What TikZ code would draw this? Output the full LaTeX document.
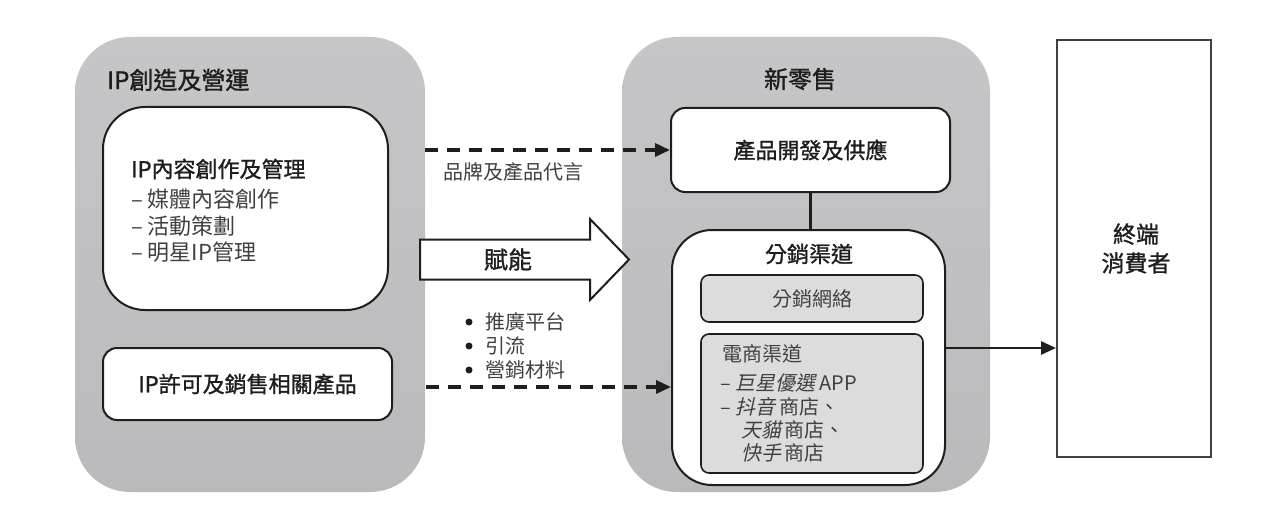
\documentclass[tikz,border=0pt]{standalone}
\usepackage{fontspec}
\setmainfont{Noto Sans CJK TC}
\newfontfamily\cjk{Noto Sans CJK TC}
\newfontfamily\cjkhead[FakeBold=1.2]{Noto Sans CJK TC}
\newfontfamily\cjkit[FakeSlant=0.22]{Noto Sans CJK TC}
\usetikzlibrary{arrows.meta}
\definecolor{panelTop}{RGB}{198,198,200}
\definecolor{panelBot}{RGB}{186,186,188}
\definecolor{innerGray}{RGB}{221,220,221}
\definecolor{ink}{RGB}{30,30,30}
\definecolor{soft}{RGB}{64,64,64}
\newcommand{\ldash}{–\hspace{5pt}}
\tikzset{
  panel/.style={draw=none, top color=panelTop, bottom color=panelBot, rounded corners=55pt, inner sep=0pt},
  wbox/.style={draw=ink, line width=2pt, fill=white, inner sep=0pt},
  gbox/.style={draw=ink, line width=1.6pt, fill=innerGray, rounded corners=8pt, inner sep=0pt},
  headtxt/.style={text=ink, inner sep=0pt, font=\cjkhead\fontsize{22}{26}\selectfont},
  bigtitle/.style={text=ink, inner sep=0pt, font=\cjkhead\fontsize{24}{28}\selectfont},
  listtxt/.style={text=soft, inner sep=0pt, anchor=west, font=\cjk\fontsize{22}{26}\selectfont},
  smalltxt/.style={text=soft, inner sep=0pt, anchor=west, font=\cjk\fontsize{20}{24}\selectfont},
  bulletdot/.style={circle, fill=ink, inner sep=0pt, minimum size=7pt},
  dasharrow/.style={draw=ink, line width=3.5pt, dash pattern=on 13pt off 9pt, -{Triangle[length=15pt,width=13pt]}},
  solidarrow/.style={draw=ink, line width=2.8pt, -{Triangle[length=15pt,width=13pt]}},
}
\begin{document}
\begin{tikzpicture}[x=1pt,y=-1pt]
\useasboundingbox[fill=white] (0,0) rectangle (1263,524);
% panels
\node[panel, minimum width=350pt, minimum height=455pt] (left) at (250,264.5) {};
\node[panel, minimum width=368pt, minimum height=455pt] (mid) at (806,264.5) {};
% left boxes
\node[wbox, rounded corners=42pt, minimum width=285pt, minimum height=203pt] (ipbox) at (245.5,208.5) {};
\node[wbox, rounded corners=14pt, minimum width=289pt, minimum height=72pt] (lic) at (247.5,384) {};
% middle boxes
\node[wbox, rounded corners=14pt, minimum width=279pt, minimum height=84pt] (prod) at (810.5,150) {};
\node[wbox, rounded corners=40pt, minimum width=273pt, minimum height=255pt] (dist) at (808.5,357.5) {};
\node[gbox, minimum width=222pt, minimum height=47pt] (net) at (812,298.5) {};
\node[gbox, minimum width=222pt, minimum height=139pt] (ecom) at (812,403.5) {};
% consumer box
\node[draw=soft, line width=2pt, fill=white, minimum width=154pt, minimum height=417pt, inner sep=0pt] (cons) at (1134,248.5) {};

% titles and texts
\node[bigtitle, anchor=west] (t1) at (107,80) {IP創造及營運};
\node[headtxt, anchor=west] (h1) at (131,169) {IP內容創作及管理};
\node[listtxt] (l1) at (131,199) {\ldash 媒體內容創作};
\node[listtxt] (l2) at (131,226) {\ldash 活動策劃};
\node[listtxt] (l3) at (131,252) {\ldash 明星IP管理};
\node[headtxt] (lictxt) at (lic.center) {IP許可及銷售相關產品};

\node[bigtitle] (t2) at (800,79) {新零售};
\node[headtxt] (prodtxt) at (prod.center) {產品開發及供應};
\node[headtxt] (disttxt) at (809,254) {分銷渠道};
\node[smalltxt, anchor=center, text=soft] (nettxt) at (net.center) {分銷網絡};
\node[smalltxt] (e0) at (722,354) {電商渠道};
\node[smalltxt] (e1) at (720,383) {\ldash{\cjkit 巨星優選}\,APP};
\node[smalltxt] (e2) at (720,407) {\ldash{\cjkit 抖音}\,商店、};
\node[smalltxt] (e3) at (741,430) {{\cjkit 天貓}\,商店、};
\node[smalltxt] (e4) at (741,453) {{\cjkit 快手}\,商店};

\node[headtxt, align=center, font=\cjkhead\fontsize{23}{29}\selectfont] (constxt) at (1136,248.5) {終端\\消費者};

% connectors
\draw[dasharrow] (left.east |- prod.west) -- (prod.west);
\coordinate (bd) at (426,387);
\draw[dasharrow] (bd) -- (bd -| dist.west);
\node[smalltxt] (brand) at (443,172) {品牌及產品代言};

% big arrow
\draw[draw=ink, line width=2pt, fill=white, line join=miter]
  (420,239.5) -- (590,239.5) -- (590,219) -- (629,259.5) -- (590,300) -- (590,279.5) -- (420,279.5) -- cycle;
\node[headtxt, font=\cjkhead\fontsize{24}{28}\selectfont] (fn) at (508,259.5) {賦能};

% bullets
\foreach \y/\t [count=\i] in {322/推廣平台, 346/引流, 370/營銷材料} {
  \node[bulletdot] (b\i) at (469,\y) {};
  \node[smalltxt] (bt\i) at (485,\y) {\t};
}

\draw[draw=ink, line width=3pt] (prod.south) -- (prod.south |- dist.north);
\coordinate (ca) at (dist.east |- 0,348);
\draw[solidarrow] (ca) -- (ca -| cons.west);
\end{tikzpicture}
\end{document}
